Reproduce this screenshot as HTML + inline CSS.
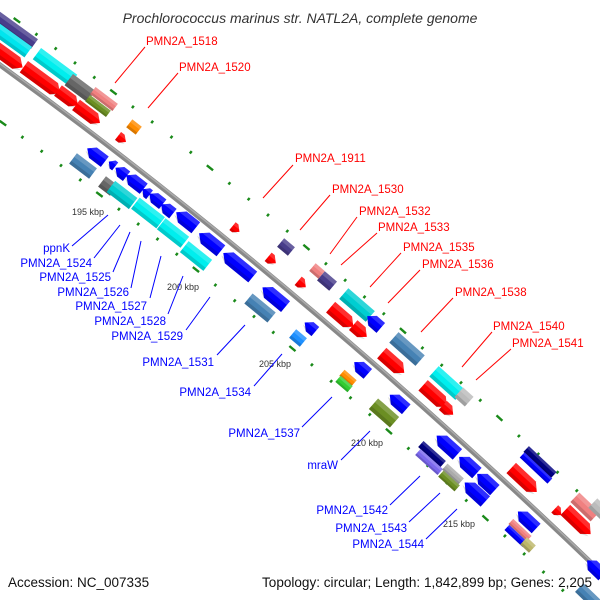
<!DOCTYPE html>
<html><head><meta charset="utf-8"><style>
html,body{margin:0;padding:0;background:#fff;width:600px;height:600px;overflow:hidden}
svg{display:block}
text{font-family:"Liberation Sans","DejaVu Sans",sans-serif}
</style></head><body>
<svg id="s" width="600" height="600" viewBox="0 0 600 600" xmlns="http://www.w3.org/2000/svg">
<text x="300" y="23" text-anchor="middle" font-size="14" font-style="italic" fill="#333">Prochlorococcus marinus str. NATL2A, complete genome</text>
<g id="ticks"></g>
<path d="M-5,61.4 Q300,282 605,576" fill="none" stroke="#888" stroke-width="5"/>
<path d="M-5,60 Q300,280.5 605,574.5" fill="none" stroke="#aaa" stroke-width="1.5"/>
<g id="genes"></g>
<g font-size="9" fill="#333">
<text x="72" y="215">195 kbp</text>
<text x="167" y="290">200 kbp</text>
<text x="259" y="367">205 kbp</text>
<text x="351" y="446">210 kbp</text>
<text x="443" y="527">215 kbp</text>
</g>
<g font-size="11.5" fill="#f00">
<text x="146" y="45">PMN2A_1518</text>
<text x="179" y="71">PMN2A_1520</text>
<text x="295" y="162">PMN2A_1911</text>
<text x="332" y="193">PMN2A_1530</text>
<text x="359" y="215">PMN2A_1532</text>
<text x="378" y="231">PMN2A_1533</text>
<text x="403" y="251">PMN2A_1535</text>
<text x="422" y="268">PMN2A_1536</text>
<text x="455" y="296">PMN2A_1538</text>
<text x="493" y="330">PMN2A_1540</text>
<text x="512" y="347">PMN2A_1541</text>
</g>
<g stroke="#f00" stroke-width="1">
<line x1="145" y1="47" x2="115" y2="83"/>
<line x1="178" y1="73" x2="148" y2="108"/>
<line x1="293" y1="165" x2="263" y2="198"/>
<line x1="330" y1="195" x2="300" y2="230"/>
<line x1="357" y1="217" x2="330" y2="254"/>
<line x1="377" y1="233" x2="341" y2="265"/>
<line x1="401" y1="253" x2="370" y2="287"/>
<line x1="420" y1="270" x2="388" y2="303"/>
<line x1="453" y1="298" x2="421" y2="332"/>
<line x1="492" y1="332" x2="462" y2="367"/>
<line x1="511" y1="349" x2="476" y2="380"/>
</g>
<g font-size="11.5" fill="#00f" text-anchor="end">
<text x="70" y="252">ppnK</text>
<text x="92" y="267">PMN2A_1524</text>
<text x="111" y="281">PMN2A_1525</text>
<text x="129" y="296">PMN2A_1526</text>
<text x="147" y="310">PMN2A_1527</text>
<text x="166" y="325">PMN2A_1528</text>
<text x="183" y="340">PMN2A_1529</text>
<text x="214" y="366">PMN2A_1531</text>
<text x="251" y="396">PMN2A_1534</text>
<text x="300" y="437">PMN2A_1537</text>
<text x="338" y="469">mraW</text>
<text x="388" y="514">PMN2A_1542</text>
<text x="407" y="532">PMN2A_1543</text>
<text x="424" y="548">PMN2A_1544</text>
</g>
<g stroke="#00f" stroke-width="1">
<line x1="72" y1="246" x2="108" y2="215"/>
<line x1="94" y1="258" x2="120" y2="225"/>
<line x1="113" y1="272" x2="130" y2="232"/>
<line x1="131" y1="288" x2="141" y2="241"/>
<line x1="150" y1="298" x2="161" y2="256"/>
<line x1="168" y1="314" x2="183" y2="276"/>
<line x1="186" y1="330" x2="210" y2="297"/>
<line x1="217" y1="355" x2="245" y2="325"/>
<line x1="254" y1="386" x2="282" y2="354"/>
<line x1="302" y1="427" x2="332" y2="397"/>
<line x1="341" y1="460" x2="370" y2="431"/>
<line x1="390" y1="505" x2="420" y2="476"/>
<line x1="409" y1="522" x2="440" y2="493"/>
<line x1="426" y1="539" x2="457" y2="509"/>
</g>
<text x="8" y="587" font-size="13.5" fill="#111">Accession: NC_007335</text>
<text x="262" y="587" font-size="13.5" fill="#111" textLength="330" lengthAdjust="spacingAndGlyphs">Topology: circular; Length: 1,842,899 bp; Genes: 2,205</text>
</svg>
<script>
(function(){
var NS="http://www.w3.org/2000/svg";
function yl(x){return 65+0.7169*x+0.000208*x*x;}
function ang(x){return Math.atan(0.7169+0.000416*x)*180/Math.PI;}
var tg=document.getElementById('ticks');
[-57,56].forEach(function(off){
  for(var i=-2;i<40;i++){
    var x=i*19.3+(off<0?17:3);
    var y=yl(x)+off;
    var l=(i%5==0)?4:1.5;
    var g=document.createElementNS(NS,'rect');
    g.setAttribute('x',-l);g.setAttribute('y',-1.1);g.setAttribute('width',2*l);g.setAttribute('height',2.4);
    g.setAttribute('fill','#1a8a1a');
    g.setAttribute('transform','translate('+x+','+y+') rotate('+(ang(x)-90+ (i%5==0?90:0) )+')');
    tg.appendChild(g);
  }
});
var gg=document.getElementById('genes');
var G=[
[15,30,48,'#483d8b','n',12],[10,39,45,'#00e5ee','n',13],[55,67,45,'#00eeee','n',14],[80,88,28,'#666','n',14],
[104,99,28,'#f08080','n',9],[98,106,26,'#6b8e23','n',8],
[8,57,36,'#f00','r',14],[42,80,45,'#f00','r',14],[68,98,25,'#f00','r',13],[88,114,30,'#f00','r',13],
[134,127,12,'#ff8c00','n',10],[122,139,10,'#f00','r',10],
[96,155,22,'#00f','b',13],[83,166,25,'#4682b4','n',13],
[112,164,8,'#00f','b',10],[121,172,14,'#00f','b',12],[135,182,22,'#00f','b',13],[146,192,9,'#00f','b',11],[156,199,17,'#00f','b',12],[167,209,15,'#00f','b',12],
[186,220,25,'#00f','b',14],[210,242,28,'#00f','b',14],[238,265,38,'#00f','b',14],[274,297,30,'#00f','b',14],
[108,186,15,'#666','n',13],[122,195,28,'#00ced1','n',14],[148,213,32,'#00eeee','n',14],[173,233,30,'#00eeee','n',14],[196,256,30,'#00eeee','n',14],
[260,308,30,'#4682b4','n',13],
[236,229,9,'#f00','r',10],[272,260,10,'#f00','r',11],[302,284,10,'#f00','r',11],[286,247,14,'#483d8b','n',11],
[317,271,12,'#f08080','n',10],[327,281,16,'#483d8b','n',12],
[357,305,35,'#00ced1','n',14],[374,322,18,'#00f','b',13],[342,317,30,'#f00','r',14],[360,331,18,'#f00','r',13],
[310,327,14,'#00f','b',12],[298,338,14,'#1e90ff','n',11],
[407,349,35,'#4682b4','n',14],[393,363,30,'#f00','r',14],
[447,383,35,'#00eeee','n',14],[464,397,14,'#bbb','n',13],[435,396,32,'#f00','r',14],[448,410,14,'#f00','r',12],
[361,368,18,'#00f','b',13],[348,378,16,'#ff8c00','n',8],[344,384,16,'#32cd32','n',8],
[384,413,28,'#6b8e23','n',14],[398,402,22,'#00f','b',13],
[447,445,28,'#00f','b',14],[468,465,24,'#00f','b',14],[486,482,24,'#00f','b',14],[475,492,28,'#00f','b',14],
[432,454,30,'#000080','n',8],[429,462,30,'#7b68ee','n',8],[453,474,22,'#aaa','n',8],[449,481,22,'#6b8e23','n',8],
[540,462,38,'#000080','n',8],[536,468,38,'#00f','n',7],[524,480,35,'#f00','r',14],
[585,507,28,'#f08080','n',13],[578,522,35,'#f00','r',14],[558,512,9,'#f00','r',10],[600,510,20,'#bbb','n',13],
[520,530,25,'#f08080','n',7],[516,536,25,'#00f','n',7],[528,545,12,'#bdb76b','n',10],[527,520,25,'#00f','b',13],
[595,568,22,'#00f','b',13],[590,598,30,'#4682b4','n',12]
];
G.forEach(function(d){
  var cx=d[0],cy=d[1],L=d[2],c=d[3],t=d[4],w=d[5];
  var h=L/2,hw=w/2,p;
  var tip=Math.min(w*0.55,L*0.6);
  if(t=='r') p=[[-h,-hw],[h-tip,-hw],[h,0],[h-tip,hw],[-h,hw]];
  else if(t=='b') p=[[-h+tip,-hw],[h,-hw],[h,hw],[-h+tip,hw],[-h,0]];
  else p=[[-h,-hw],[h,-hw],[h,hw],[-h,hw]];
  var g=document.createElementNS(NS,'g');
  g.setAttribute('transform','translate('+cx+','+cy+') rotate('+ang(cx)+')');
  var pl=document.createElementNS(NS,'polygon');
  pl.setAttribute('points',p.map(function(q){return q.join(',')}).join(' '));
  pl.setAttribute('fill',c);
  g.appendChild(pl);
  var hl=document.createElementNS(NS,'polygon');
  hl.setAttribute('points',p.map(function(q){return q[0]+','+Math.min(q[1],-hw*0.3)}).join(' '));
  hl.setAttribute('fill','#fff');hl.setAttribute('opacity','0.18');
  g.appendChild(hl);
  var sh=document.createElementNS(NS,'polygon');
  sh.setAttribute('points',p.map(function(q){return q[0]+','+Math.max(q[1],hw*0.45)}).join(' '));
  sh.setAttribute('fill','#000');sh.setAttribute('opacity','0.15');
  g.appendChild(sh);
  gg.appendChild(g);
});
})();
</script>
</body></html>
